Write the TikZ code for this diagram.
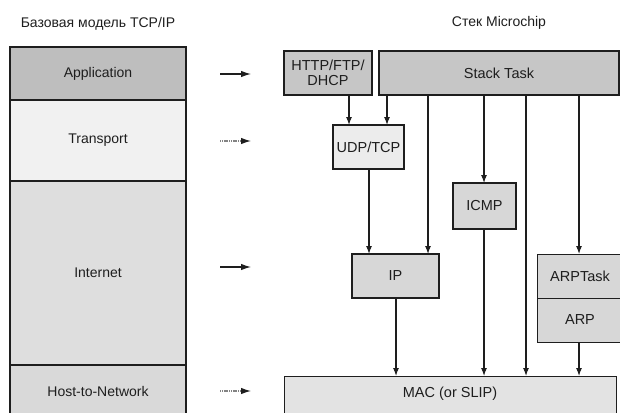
\documentclass[tikz,border=0pt]{standalone}
\usepackage{fontspec}
\setmainfont{Liberation Sans}
\usetikzlibrary{arrows.meta}
\definecolor{ink}{HTML}{1E1E1E}
\definecolor{appfill}{HTML}{BEBEBE}
\definecolor{transfill}{HTML}{F1F1F1}
\definecolor{inetfill}{HTML}{DEDEDE}
\definecolor{hostfill}{HTML}{D9D9D9}
\definecolor{taskfill}{HTML}{C6C6C6}
\definecolor{udpfill}{HTML}{ECECEC}
\definecolor{modfill}{HTML}{D7D7D7}
\definecolor{macfill}{HTML}{E3E3E3}
\tikzset{
  lbl/.style={text=ink, inner sep=0pt, font=\fontsize{14}{15}\selectfont},
  layer/.style={lbl, draw=ink, line width=1.2pt, minimum width=176pt},
  mod/.style={lbl, draw=ink, line width=1.2pt, align=center, font=\fontsize{14.5}{14.5}\selectfont},
  caption/.style={inner sep=0pt, text=ink, font=\fontsize{14}{15}\selectfont},
  arr/.style={draw=ink, line width=1.1pt, -{Latex[length=8pt,width=6pt]}},
  side/.style={draw=ink, line width=1.2pt, -{Latex[length=10pt,width=6.5pt]}},
  sidelight/.style={draw=ink!55, line width=1.2pt, dash pattern=on 1.2pt off 0.6pt, -{Latex[length=10pt,width=6.5pt,fill=ink,color=ink]}},
}
\begin{document}
\begin{tikzpicture}[x=1pt, y=-1pt]
\useasboundingbox (0,0) rectangle (620,412);
\clip (0,0) rectangle (620,412);

% titles
\node[caption] (t1) at (98,24) {Базовая модель TCP/IP};
\node[caption] (t2) at (499,23) {Стек Microchip};

% TCP/IP reference model layers
\node[layer, fill=appfill, minimum height=53pt] (app) at (98,73.5) {Application};
\node[layer, fill=transfill, minimum height=81pt] (trans) at (98,140.5) {Transport};
\node[layer, fill=inetfill, minimum height=184pt] (inet) at (98,273) {Internet};
\node[layer, fill=hostfill, minimum height=50pt] (host) at (98,390) {};
\node[lbl] (hostlbl) at (98,391) {Host-to-Network};

% correspondence arrows
\coordinate (s1a) at (220,74);  \coordinate (s1b) at (251,74);
\coordinate (s2a) at (220,141); \coordinate (s2b) at (251,141);
\coordinate (s3a) at (220,267); \coordinate (s3b) at (251,267);
\coordinate (s4a) at (220,391); \coordinate (s4b) at (251,391);
\draw[side] (s1a) -- (s1b);
\draw[sidelight] (s2a) -- (s2b);
\draw[side] (s3a) -- (s3b);
\draw[sidelight] (s4a) -- (s4b);

% Microchip stack modules
\node[mod, fill=taskfill, minimum width=88pt, minimum height=44pt] (http) at (328,73) {HTTP/FTP/\\DHCP};
\node[mod, fill=taskfill, minimum width=240pt, minimum height=44pt] (stack) at (499,73) {Stack Task};
\node[mod, fill=udpfill, minimum width=71pt, minimum height=44pt] (udp) at (368.5,147) {UDP/TCP};
\node[mod, fill=modfill, minimum width=63pt, minimum height=46pt] (icmp) at (484.5,206) {ICMP};
\node[mod, fill=modfill, minimum width=87pt, minimum height=44pt] (ip) at (395.5,276) {IP};
\node[mod, fill=modfill, minimum width=90pt, minimum height=44pt, anchor=north west] (arptask) at (537,254) {};
\node[mod, fill=modfill, minimum width=90pt, minimum height=44pt, anchor=north west] (arp) at (537,298) {};
\node[lbl, font=\fontsize{14.5}{15}\selectfont] (arptasklbl) at (580,276) {ARPTask};
\node[lbl, font=\fontsize{14.5}{15}\selectfont] (arplbl) at (580,320) {ARP};
\node[mod, fill=macfill, minimum width=332pt, minimum height=42pt, anchor=north west] (mac) at (284,376) {};
\node[lbl, font=\fontsize{14.5}{15}\selectfont] (maclbl) at (450,394) {MAC (or SLIP)};

% entry points of the connectors
\coordinate (u1) at (349,125);
\coordinate (u2) at (387,125);
\coordinate (i1) at (369,254);
\coordinate (i2) at (428,254);
\coordinate (c1) at (484,183);
\coordinate (r1) at (579,254);
\coordinate (m1) at (396,376);
\coordinate (m2) at (484,376);
\coordinate (m3) at (526,376);
\coordinate (m4) at (579,376);

% connectors
\draw[arr] (http.south -| u1) -- (u1);
\draw[arr] (stack.south -| u2) -- (u2);
\draw[arr] (udp.south -| i1) -- (i1);
\draw[arr] (stack.south -| i2) -- (i2);
\draw[arr] (stack.south -| c1) -- (c1);
\draw[arr] (stack.south -| r1) -- (r1);
\draw[arr] (ip.south -| m1) -- (m1);
\draw[arr] (icmp.south -| m2) -- (m2);
\draw[arr] (stack.south -| m3) -- (m3);
\draw[arr] (arp.south -| m4) -- (m4);
\end{tikzpicture}
\end{document}
